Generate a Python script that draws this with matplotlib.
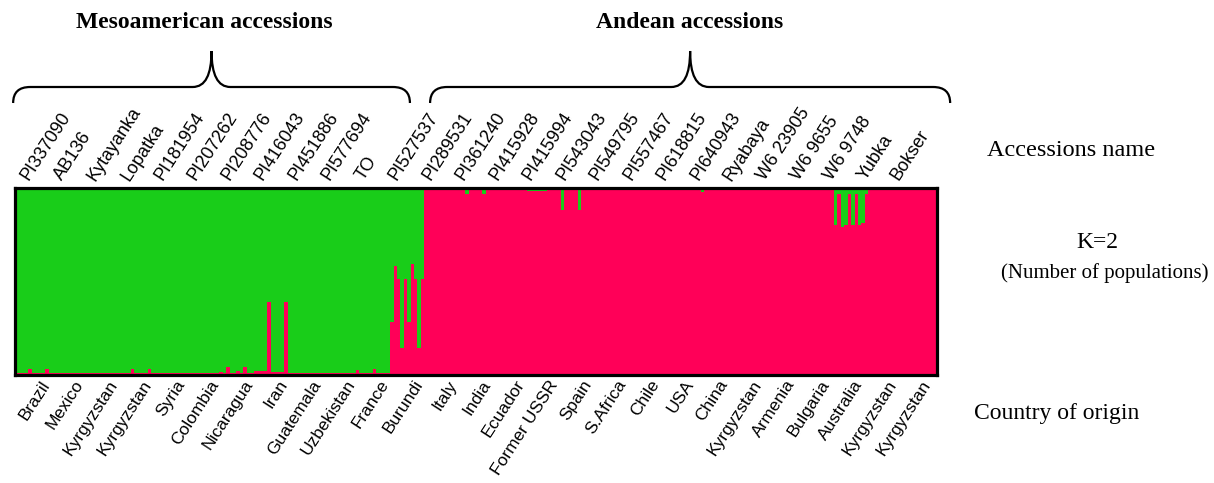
import numpy as np
import matplotlib
matplotlib.use('Agg')
import matplotlib.pyplot as plt
from matplotlib.path import Path
from matplotlib.patches import PathPatch
from matplotlib.transforms import blended_transform_factory, offset_copy

# accession names (top) and countries of origin (bottom)
meso_names = ['PI337090', 'AB136', 'Kytayanka', 'Lopatka', 'PI181954', 'PI207262',
              'PI208776', 'PI416043', 'PI451886', 'PI577694', 'TO']
andean_names = ['PI527537', 'PI289531', 'PI361240', 'PI415928', 'PI415994', 'PI543043',
                'PI549795', 'PI557467', 'PI618815', 'PI640943', 'Ryabaya', 'W6 23905',
                'W6 9655', 'W6 9748', 'Yubka', 'Bokser']
meso_countries = ['Brazil', 'Mexico', 'Kyrgyzstan', 'Kyrgyzstan', 'Syria', 'Colombia',
                  'Nicaragua', 'Iran', 'Guatemala', 'Uzbekistan', 'France', 'Burundi']
andean_countries = ['Italy', 'India', 'Ecuador', 'Former USSR', 'Spain', 'S.Africa', 'Chile',
                    'USA', 'China', 'Kyrgyzstan', 'Armenia', 'Bulgaria', 'Australia',
                    'Kyrgyzstan', 'Kyrgyzstan']

# membership in the red (Andean) cluster, 10 plants per accession
meso_q = [
    [.01, .01, .01, .01, .03, .01, .01, .01, .01, .03],
    [.01, .01, .01, .01, .01, .01, .01, .01, .01, .01],
    [.01, .01, .01, .01, .01, .01, .01, .01, .01, .01],
    [.01, .01, .01, .01, .03, .01, .01, .01, .01, .03],
    [.01, .01, .01, .01, .01, .01, .01, .01, .01, .01],
    [.01, .01, .01, .01, .01, .01, .01, .01, .01, .01],
    [.015, .01, .04, .01, .01, .02, .01, .04, .01, .01],
    [.02, .02, .02, .02, .39, .015, .015, .015, .015, .39],
    [.01, .01, .01, .01, .01, .01, .01, .01, .01, .01],
    [.01, .01, .01, .01, .01, .01, .01, .01, .01, .01],
    [.025, .01, .01, .01, .01, .03, .01, .01, .01, .01],
    [.28, .58, .51, .14, .51, .28, .59, .51, .14, .51],
]
andean_q = [
    [.985, .985, .985, .985, .985, .985, .985, .985, .985, .985],
    [.985, .985, .967, .985, .985, .985, .985, .967, .985, .985],
    [.985, .985, .985, .985, .985, .985, .985, .985, .985, .985],
    [.98, .98, .98, .98, .98, .98, .985, .985, .985, .985],
    [.88, .985, .985, .985, .985, .88, .985, .985, .985, .985],
    [.985, .985, .985, .985, .985, .985, .985, .985, .985, .985],
    [.985, .985, .985, .985, .985, .985, .985, .985, .985, .985],
    [.985, .985, .985, .985, .985, .985, .985, .985, .985, .985],
    [.985, .975, .985, .985, .985, .985, .985, .985, .985, .985],
    [.985, .985, .985, .985, .985, .985, .985, .985, .985, .985],
    [.985, .985, .985, .985, .985, .985, .985, .985, .985, .985],
    [.985, .985, .985, .985, .985, .985, .985, .985, .985, .985],
    [.80, .965, .79, .80, .965, .80, .965, .80, .81, .965],
    [.985, .985, .985, .985, .985, .985, .985, .985, .985, .985],
    [.985, .985, .985, .985, .985, .985, .985, .985, .985, .985],
]

GREEN = '#19CD19'
RED = '#FF0058'

red = np.concatenate([np.ravel(meso_q), np.ravel(andean_q)])
n = len(red)
names = meso_names + andean_names
countries = meso_countries + andean_countries

W, H = 1214, 483
fig = plt.figure(figsize=(W / 100, H / 100), dpi=100)
ax = fig.add_axes([14.5 / W, 1 - 374.5 / H, 922 / W, 187 / H])

x = np.arange(n)
ax.bar(x, red, width=1, align='edge', color=RED, linewidth=0, antialiased=False)
ax.bar(x, 1 - red, bottom=red, width=1, align='edge', color=GREEN, linewidth=0,
       antialiased=False)
ax.set_xlim(0, n)
ax.set_ylim(0, 1)
ax.set_xticks([])
ax.set_yticks([])
for sp in ax.spines.values():
    sp.set_linewidth(2.3)
    sp.set_color('black')

trans = blended_transform_factory(ax.transData, ax.transAxes)
sans = 'Liberation Sans'
serif = 'Liberation Serif'

# accession names above the box
top_x = np.linspace(5.0, 260.0, len(names))
t_top = offset_copy(trans, fig=fig, x=0, y=4, units='dots')
for xi, s in zip(top_x, names):
    ax.text(xi, 1, s, transform=t_top, rotation=57, rotation_mode='anchor',
            ha='left', va='bottom', fontsize=13, family=sans)

# countries below the box
bot_x = np.linspace(7.5, 265.5, len(countries))
t_bot = offset_copy(trans, fig=fig, x=0, y=-3, units='dots')
for xi, s in zip(bot_x, countries):
    ax.text(xi, 0, s, transform=t_bot, rotation=57, rotation_mode='anchor',
            ha='right', va='top', fontsize=12.5, family=sans)

# curly braces over the two groups
btrans = blended_transform_factory(ax.transData, fig.transFigure)


def brace(x0, x1, yl, ym, yt, r, r2):
    xc = (x0 + x1) / 2
    verts = [(x0, yl), (x0, ym), (x0 + r, ym), (xc - r2, ym), (xc, ym), (xc, yt),
             (xc, ym), (xc + r2, ym), (x1 - r, ym), (x1, ym), (x1, yl)]
    codes = [Path.MOVETO, Path.CURVE3, Path.CURVE3, Path.LINETO, Path.CURVE3, Path.CURVE3,
             Path.CURVE3, Path.CURVE3, Path.LINETO, Path.CURVE3, Path.CURVE3]
    ax.add_patch(PathPatch(Path(verts, codes), transform=btrans, fill=False,
                           lw=1.6, color='black', clip_on=False))
    return xc


yl, ym, yt = 1 - 103 / H, 1 - 87 / H, 1 - 51 / H
c1 = brace(-0.4, 115.8, yl, ym, yt, 5.0, 5.5)
c2 = brace(121.7, 274.0, yl, ym, yt, 5.0, 5.5)
ax.text(c1 - 2, 1 - 22 / H, 'Mesoamerican accessions', transform=btrans, ha='center',
        va='center', fontsize=17, fontweight='bold', family=serif)
ax.text(c2, 1 - 22 / H, 'Andean accessions', transform=btrans, ha='center',
        va='center', fontsize=17, fontweight='bold', family=serif)

# right side captions
fig.text(1071 / W, 1 - 151 / H, 'Accessions name', ha='center', va='center',
         fontsize=17.5, family=serif)
fig.text(1097 / W, 1 - 243 / H, 'K=2', ha='center', va='center', fontsize=17, family=serif)
fig.text(1105 / W, 1 - 273 / H, '(Number of populations)', ha='center', va='center',
         fontsize=15, family=serif)
fig.text(1057 / W, 1 - 414 / H, 'Country of origin', ha='center', va='center',
         fontsize=17, family=serif)

fig.savefig('out.png', dpi=100)
